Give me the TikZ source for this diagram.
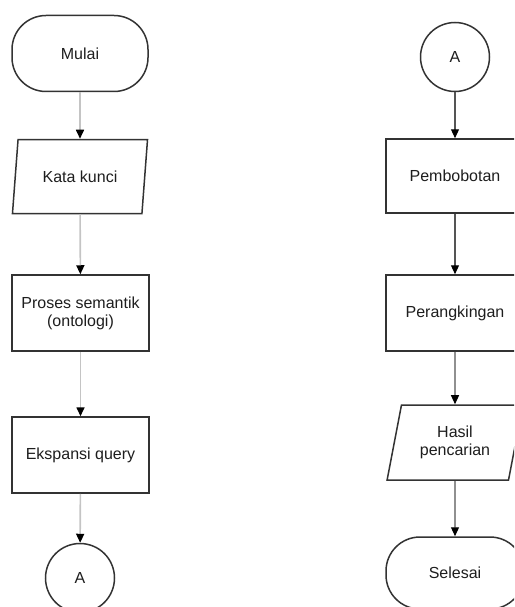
\documentclass[tikz,border=0pt]{standalone}
\usepackage{fontspec}
\setmainfont{Liberation Sans}
\usetikzlibrary{shapes.geometric,arrows.meta}
\definecolor{edge}{HTML}{333333}
\definecolor{lightcon}{HTML}{C4C4C4}
\definecolor{darkcon}{HTML}{555555}
\definecolor{txt}{HTML}{1E1E1E}
\tikzset{
  base/.style={draw=edge, line width=1.5pt, fill=white, text=txt, font=\fontsize{16}{18}\selectfont, align=center, inner sep=0pt},
  termbox/.style={base, rectangle, rounded corners=34pt, minimum width=136pt, minimum height=76pt},
  procbox/.style={base, rectangle, minimum width=137pt, minimum height=76pt},
  iobox/.style={base, trapezium, trapezium left angle=74, trapezium right angle=106, trapezium stretches=true, minimum width=136pt, minimum height=74pt},
  conbox/.style={base, circle, minimum size=69pt},
  conlight/.style={draw=lightcon, line width=1.6pt, -{Triangle[width=8pt,length=9pt,color=black]}},
  condark/.style={draw=darkcon, line width=1.1pt, -{Triangle[width=8pt,length=9pt,color=black]}},
}
\begin{document}
\begin{tikzpicture}[x=1pt,y=-1pt]
\useasboundingbox (0,0) rectangle (514,607);
\clip (0,0) rectangle (514,607);
% left column
\node[termbox] (mulai) at (80,53.5) {Mulai};
\node[iobox] (kata) at (80,176.5) {Kata kunci};
\node[procbox] (proses) at (80.5,313) {Proses semantik\\(ontologi)};
\node[procbox] (ekspansi) at (80.5,455) {Ekspansi query};
\node[conbox] (a1) at (80,578) {A};
% right column
\node[conbox] (a2) at (455,57) {A};
\node[procbox, minimum width=138pt, minimum height=74pt] (bobot) at (455,176) {Pembobotan};
\node[procbox, minimum width=138pt] (rank) at (455,313) {Perangkingan};
\node[iobox, minimum height=75pt] (hasil) at (455,442.5) {Hasil\\pencarian};
\node[termbox, minimum width=138pt, minimum height=72pt] (selesai) at (455,573) {Selesai};
% connectors
\draw[conlight] (mulai) -- (kata);
\draw[conlight] (kata) -- (proses);
\draw[conlight] (proses) -- (ekspansi);
\draw[conlight] (ekspansi) -- (a1);
\draw[condark] (a2) -- (bobot);
\draw[condark] (bobot) -- (rank);
\draw[condark] (rank) -- (hasil);
\draw[condark] (hasil) -- (selesai);
\end{tikzpicture}
\end{document}
